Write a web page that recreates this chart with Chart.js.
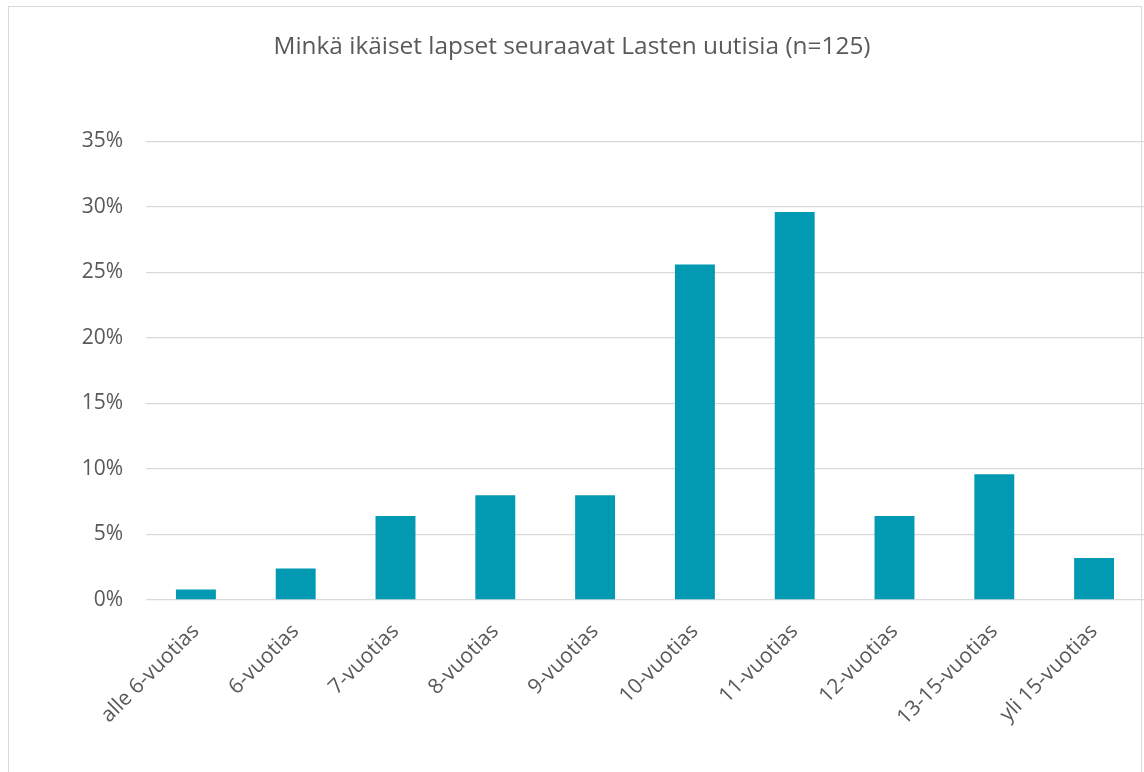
<!DOCTYPE html>
<html>
<head>
<meta charset="utf-8">
<script src="https://cdn.jsdelivr.net/npm/chart.js@4"></script>
<style>
  html, body { margin: 0; padding: 0; background: #fff; overflow: hidden; }
  #wrap { position: absolute; left: 0; top: 0; width: 1144px; height: 772px; }
  #frame { position: absolute; left: 8px; top: 6px; width: 1134px; height: 780px; border: 1px solid #d9d9d9; box-sizing: border-box; pointer-events: none; }
</style>
</head>
<body>
<div id="wrap">
  <canvas id="c" width="1144" height="772"></canvas>
  <div id="frame"></div>
</div>
<script>
const titleText = 'Minkä ikäiset lapset seuraavat Lasten uutisia (n=125)';
const categories = ['alle 6-vuotias', '6-vuotias', '7-vuotias', '8-vuotias', '9-vuotias', '10-vuotias', '11-vuotias', '12-vuotias', '13-15-vuotias', 'yli 15-vuotias'];
const shares = [0.8, 2.4, 6.4, 8.0, 8.0, 25.6, 29.6, 6.4, 9.6, 3.2];
const yTicks = [0, 5, 10, 15, 20, 25, 30, 35];

const FONT = '"Open Sans", "DejaVu Sans", sans-serif';
const TEXT = '#595959';

new Chart(document.getElementById('c'), {
  type: 'bar',
  data: {
    labels: categories,
    datasets: [{
      data: shares,
      backgroundColor: '#029AB2',
      borderWidth: 0,
      barPercentage: 0.5,
      categoryPercentage: 0.8
    }]
  },
  options: {
    responsive: false,
    animation: false,
    devicePixelRatio: 1,
    layout: { padding: { left: 0, right: 0, top: 0, bottom: 0 } },
    plugins: {
      legend: { display: false },
      tooltip: { enabled: false },
      title: {
        display: true,
        text: titleText,
        color: TEXT,
        font: { family: FONT, size: 24.4, weight: 'normal', lineHeight: 1.2 },
        padding: { top: 32, bottom: 80 }
      }
    },
    scales: {
      x: {
        grid: { display: false, drawTicks: false },
        border: { display: false },
        ticks: {
          color: TEXT,
          font: { family: FONT, size: 21 },
          maxRotation: 45,
          minRotation: 45,
          padding: 19,
          autoSkip: false
        },
        afterFit: (s) => { s.height = 172; }
      },
      y: {
        min: 0,
        max: 35,
        afterBuildTicks: (s) => { s.ticks = yTicks.map(v => ({ value: v })); },
        grid: { color: '#d9d9d9', lineWidth: 1.3, drawTicks: false },
        border: { display: false },
        ticks: {
          color: TEXT,
          font: { family: FONT, size: 21 },
          padding: 23,
          callback: (v) => v + '%'
        },
        afterFit: (s) => { s.width = 146; }
      }
    }
  }
});
</script>
</body>
</html>
